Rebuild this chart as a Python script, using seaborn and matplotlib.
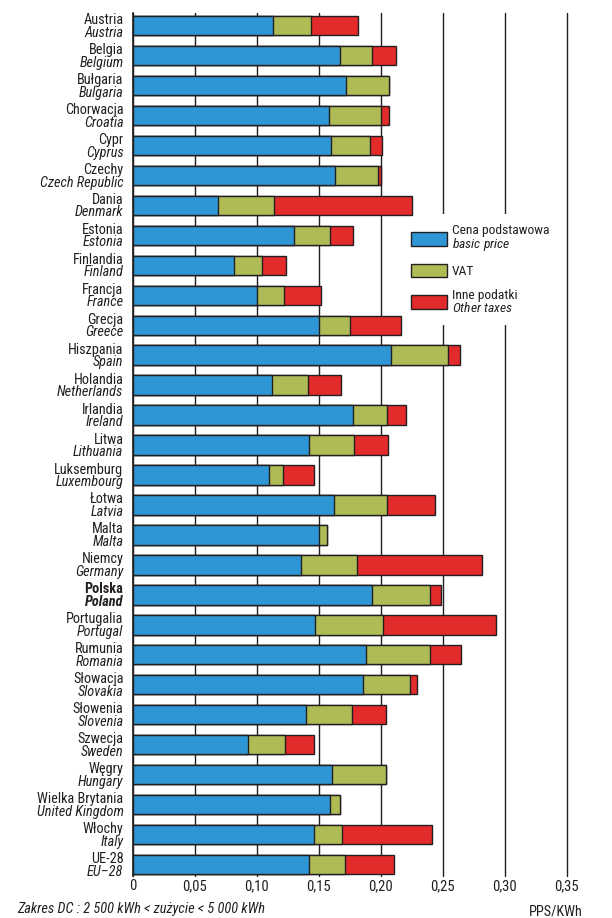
import matplotlib
matplotlib.use("Agg")
import matplotlib.pyplot as plt
import matplotlib.patches as mpatches
import matplotlib.transforms as mtrans
from matplotlib import font_manager as fm
import seaborn as sns
import pandas as pd

# ---------------- data ----------------
countries_pl = ["Austria", "Belgia", "Bułgaria", "Chorwacja", "Cypr", "Czechy", "Dania",
                "Estonia", "Finlandia", "Francja", "Grecja", "Hiszpania", "Holandia",
                "Irlandia", "Litwa", "Luksemburg", "Łotwa", "Malta", "Niemcy", "Polska",
                "Portugalia", "Rumunia", "Słowacja", "Słowenia", "Szwecja", "Węgry",
                "Wielka Brytania", "Włochy", "UE-28"]
countries_en = ["Austria", "Belgium", "Bulgaria", "Croatia", "Cyprus", "Czech Republic",
                "Denmark", "Estonia", "Finland", "France", "Greece", "Spain", "Netherlands",
                "Ireland", "Lithuania", "Luxembourg", "Latvia", "Malta", "Germany", "Poland",
                "Portugal", "Romania", "Slovakia", "Slovenia", "Sweden", "Hungary",
                "United Kingdom", "Italy", "EU–28"]
basic_price = [0.113, 0.167, 0.172, 0.158, 0.160, 0.163, 0.069, 0.130, 0.0815, 0.100,
               0.150, 0.208, 0.112, 0.178, 0.1425, 0.110, 0.162, 0.150, 0.136, 0.193,
               0.147, 0.188, 0.186, 0.140, 0.093, 0.161, 0.159, 0.1465, 0.142]
vat = [0.031, 0.026, 0.035, 0.042, 0.031, 0.035, 0.045, 0.029, 0.023, 0.022,
       0.025, 0.046, 0.029, 0.027, 0.036, 0.011, 0.043, 0.007, 0.045, 0.047,
       0.055, 0.052, 0.038, 0.037, 0.030, 0.043, 0.008, 0.022, 0.029]
other_taxes = [0.038, 0.019, 0.000, 0.007, 0.010, 0.002, 0.111, 0.019, 0.019, 0.030,
               0.041, 0.010, 0.027, 0.015, 0.027, 0.025, 0.039, 0.000, 0.101, 0.009,
               0.091, 0.025, 0.005, 0.027, 0.023, 0.000, 0.000, 0.0725, 0.040]
x_ticks = [0, 0.05, 0.10, 0.15, 0.20, 0.25, 0.30, 0.35]
x_tick_labels = ["0", "0,05", "0,10", "0,15", "0,20", "0,25", "0,30", "0,35"]
legend_labels = ["Cena podstawowa\n$\\mathit{basic\\ price}$", "VAT",
                 "Inne podatki\n$\\mathit{Other\\ taxes}$"]
highlight = "Polska"

# ---------------- fonts ----------------
names = {f.name for f in fm.fontManager.ttflist}
stretch = "normal"
if "Liberation Sans Narrow" in names:
    FONT, k = "Liberation Sans Narrow", 1.05
elif "Roboto Condensed" in names:
    FONT, k = "Roboto Condensed", 1.0
elif any(f.name == "DejaVu Sans" and f.stretch == "condensed" for f in fm.fontManager.ttflist):
    FONT, k, stretch = "DejaVu Sans", 0.9, "condensed"
else:
    FONT, k = "Liberation Sans", 0.9

sns.set_theme(style="white")
plt.rcParams["font.family"] = [FONT, "DejaVu Sans"]
plt.rcParams["font.stretch"] = stretch
plt.rcParams["mathtext.fontset"] = "custom"
plt.rcParams["mathtext.rm"] = FONT
plt.rcParams["mathtext.it"] = FONT + ":italic"
plt.rcParams["mathtext.bf"] = FONT + ":bold"

FS_LAB = 10.3 * k
FS_LEG = 9.7 * k
FS_TICK = 10.5 * k
FS_FOOT = 10.4 * k

BLUE, GREEN, RED, EDGE = "#2E96D4", "#AFBB55", "#E42B2B", "#231F20"

df = pd.DataFrame({"country": countries_pl, "basic": basic_price, "vat": vat, "other": other_taxes})
df["bv"] = df["basic"] + df["vat"]
df["total"] = df["bv"] + df["other"]

W, H = 612, 918
X0, X1, Y0, Y1 = 132.7, 566.7, 13, 876
fig = plt.figure(figsize=(W / 100, H / 100), dpi=100)
ax = fig.add_axes([X0 / W, 1 - Y1 / H, (X1 - X0) / W, (Y1 - Y0) / H])

common = dict(y="country", orient="h", errorbar=None, saturation=1, width=0.645,
              edgecolor=EDGE, linewidth=1.0, ax=ax, order=countries_pl, zorder=2)
sns.barplot(data=df, x="total", color=RED, **common)
sns.barplot(data=df, x="bv", color=GREEN, **common)
sns.barplot(data=df, x="basic", color=BLUE, **common)

ax.set_xlim(0, 0.35)
ax.set_ylim(28.38, -0.417)
ax.set_xticks(x_ticks)
ax.set_xticklabels(x_tick_labels, fontsize=FS_TICK)
ax.set_yticks([])
ax.set_xlabel("")
ax.set_ylabel("")
ax.set_axisbelow(True)
ax.grid(axis="x", color=EDGE, linewidth=1.0)
ax.grid(axis="y", visible=False)
for gl in ax.xaxis.get_gridlines():
    gl.set_clip_on(False)
ax.tick_params(axis="x", length=0, pad=2.5, colors=EDGE)
for s in ["top", "right", "bottom"]:
    ax.spines[s].set_visible(False)
ax.spines["left"].set_color(EDGE)
ax.spines["left"].set_linewidth(1.2)
ax.spines["left"].set_zorder(3)

# category labels (two lines: Polish / English italic)
trans = mtrans.blended_transform_factory(ax.transAxes, ax.transData)
xoff = -9.3 / (X1 - X0)
for i, (pl, en) in enumerate(zip(countries_pl, countries_en)):
    bold = "bold" if pl == highlight else "normal"
    ax.text(xoff, i - 0.05, pl, transform=trans, ha="right", va="baseline",
            fontsize=FS_LAB, fontweight=bold, color=EDGE)
    ax.text(xoff, i + 0.373, en, transform=trans, ha="right", va="baseline",
            fontsize=FS_LAB, fontstyle="italic", fontweight=bold, color=EDGE)

# legend
handles = [mpatches.Patch(facecolor=c, edgecolor=EDGE, linewidth=1.0) for c in (BLUE, GREEN, RED)]
leg = ax.legend(handles, legend_labels, loc="upper left",
                bbox_to_anchor=(401 / W, 1 - 214 / H), bbox_transform=fig.transFigure,
                frameon=True, fontsize=FS_LEG, handlelength=2.65, handleheight=1.2,
                handletextpad=0.4, labelspacing=0.8, borderpad=0.75, borderaxespad=0)
leg.get_frame().set_facecolor("white")
leg.get_frame().set_edgecolor("none")
leg.get_frame().set_alpha(1)
leg.set_zorder(1)
for t in leg.get_texts():
    t.set_color(EDGE)
    t.set_linespacing(0.9)

fig.text(16.7 / W, 1 - 912.7 / H, "Zakres DC : 2 500 kWh < zużycie < 5 000 kWh",
         fontsize=FS_FOOT, fontstyle="italic", ha="left", va="baseline", color=EDGE)
fig.text(583 / W, 1 - 915.5 / H, "PPS/KWh", fontsize=FS_LAB, ha="right", va="baseline",
         color=EDGE)

fig.savefig("out.png", dpi=100)
